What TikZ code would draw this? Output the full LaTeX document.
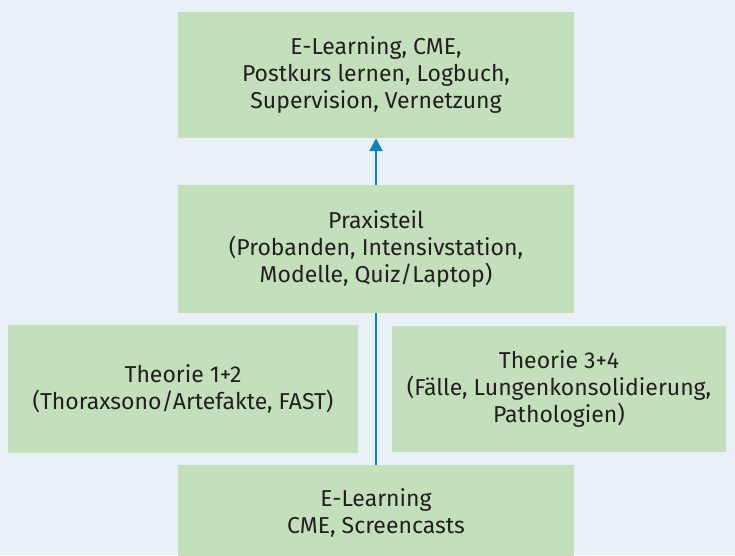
\documentclass[tikz,border=0pt]{standalone}
\usepackage{fontspec}
\setmainfont{Fira Sans}
\usetikzlibrary{arrows.meta}
\definecolor{bgblue}{HTML}{E8EFF7}
\definecolor{boxgreen}{HTML}{C4DFBB}
\definecolor{linkblue}{HTML}{0B84B5}
\definecolor{txtgrey}{HTML}{231F20}
\tikzset{
    box/.style={fill=boxgreen, text=txtgrey, align=center, inner sep=0pt,
        font=\fontsize{23}{27}\selectfont},
    link/.style={linkblue, line width=2pt}
}
\begin{document}
\begin{tikzpicture}[x=1pt,y=-1pt]

                \clip (0,0) rectangle (735,555);
                \fill[bgblue] (0,0) rectangle (735,555);
                \node[box, minimum width=396pt, minimum height=126pt] (top) at (376,75) {E-Learning, CME,\\Postkurs lernen, Logbuch,\\Supervision, Vernetzung};
                \node[box, minimum width=396pt, minimum height=128pt] (praxis) at (376,249) {Praxisteil\\(Probanden, Intensivstation,\\Modelle, Quiz/Laptop)};
                \node[box, minimum width=350pt, minimum height=128pt] (theo12) at (183,389) {Theorie 1+2\\(Thoraxsono/Artefakte, FAST)};
                \node[box, minimum width=334pt, minimum height=126pt] (theo34) at (559,389) {Theorie 3+4\\(Fälle, Lungenkonsolidierung,\\Pathologien)};
                \node[box, minimum width=396pt, minimum height=96pt] (base) at (376,513) {E-Learning\\CME, Screencasts};
                \draw[link] (base.north) -- (praxis.south);
                \draw[link, line width=2.5pt, -{Triangle[width=13pt,length=13pt]}] (praxis.north) -- (top.south);
            \end{tikzpicture}
\end{document}
